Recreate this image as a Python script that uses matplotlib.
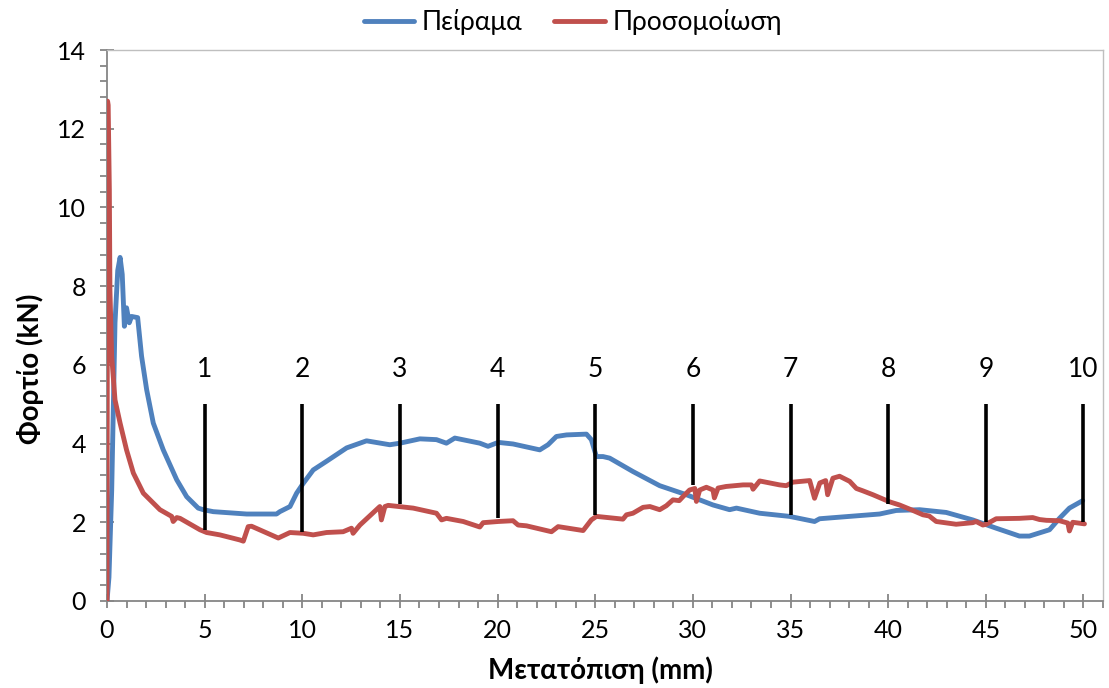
import matplotlib
matplotlib.use("Agg")
import matplotlib.pyplot as plt
from matplotlib.ticker import MultipleLocator

plt.rcParams['font.family'] = ['Lato', 'DejaVu Sans']

# Experimental load-displacement curve
exp_x = [0.0, 0.1, 0.24, 0.41, 0.55, 0.67, 0.78, 0.89, 1.0, 1.14, 1.26, 1.57, 1.77, 2.03,
         2.37, 2.88, 3.57, 4.08, 4.67, 4.93, 5.44, 6.3, 7.15, 8.68, 8.85, 9.37, 9.71,
         10.05, 10.56, 11.24, 12.27, 13.29, 14.48, 15.0, 16.02, 16.87, 17.38, 17.81,
         19.09, 19.51, 20.03, 20.79, 22.16, 22.58, 23.01, 23.53, 24.55, 24.8, 25.06,
         25.4, 25.74, 26.93, 28.3, 29.67, 31.03, 31.88, 32.23, 33.42, 34.95, 36.23,
         36.49, 37.51, 39.56, 40.41, 41.61, 42.97, 44.33, 45.53, 46.72, 47.23, 48.26,
         48.77, 49.28, 49.96]
exp_y = [0.0, 0.6, 2.8, 7.07, 8.4, 8.73, 8.3, 6.98, 7.45, 7.07, 7.23, 7.2, 6.22, 5.37,
         4.52, 3.84, 3.08, 2.65, 2.36, 2.32, 2.27, 2.24, 2.21, 2.21, 2.27, 2.4, 2.74,
         2.99, 3.33, 3.55, 3.89, 4.07, 3.97, 4.01, 4.12, 4.1, 4.01, 4.14,
         4.01, 3.93, 4.03, 3.99, 3.84, 3.97, 4.18, 4.22, 4.24, 4.1, 3.67,
         3.67, 3.63, 3.29, 2.93, 2.70, 2.44, 2.32, 2.36, 2.23, 2.15, 2.02,
         2.09, 2.13, 2.21, 2.3, 2.32, 2.25, 2.06, 1.85, 1.65, 1.65, 1.81,
         2.1, 2.36, 2.55]

# Simulated load-displacement curve
sim_x = [0.0, 0.03, 0.06, 0.12, 0.15, 0.24, 0.41, 0.67, 1.0, 1.35, 1.86, 2.71, 3.31,
         3.39, 3.57, 3.74, 4.76, 5.1, 5.78, 6.81, 6.98, 7.23, 7.4, 8.77, 9.37, 10.05,
         10.56, 11.24, 12.09, 12.52, 12.6, 12.95, 13.97, 14.05, 14.23, 14.4, 15.68,
         16.87, 17.13, 17.38, 18.24, 19.09, 19.26, 20.03, 20.79, 21.05, 21.48, 22.76,
         23.1, 24.38, 24.8, 25.06, 26.42, 26.6, 26.93, 27.45, 27.8, 28.3, 28.64,
         28.98, 29.3, 29.49, 29.83, 30.1, 30.18, 30.35, 30.69, 31.03, 31.1, 31.29,
         31.7, 32.57, 33.0, 33.08, 33.42, 34.44, 34.78, 35.12, 35.98, 36.23, 36.5,
         36.8, 36.9, 37.17, 37.51, 38.03, 38.37, 38.7, 39.22, 40.07, 40.58, 41.27,
         41.78, 42.1, 42.46, 43.48, 44.33, 44.5, 44.85, 45.02, 45.53, 46.72, 47.4,
         47.75, 48.1, 48.77, 49.2, 49.28, 49.45, 50.05]
sim_y = [0.0, 12.7, 12.6, 10.46, 7.9, 6.22, 5.11, 4.52, 3.84, 3.25, 2.74, 2.32, 2.15,
         2.02, 2.12, 2.1, 1.81, 1.74, 1.68, 1.55, 1.52, 1.89, 1.9, 1.6, 1.74, 1.72,
         1.68, 1.74, 1.76, 1.85, 1.72, 1.93, 2.4, 2.06, 2.4, 2.43, 2.36,
         2.23, 2.06, 2.1, 2.02, 1.88, 1.99, 2.02, 2.04, 1.93, 1.91, 1.76,
         1.89, 1.79, 2.06, 2.15, 2.08, 2.19, 2.23, 2.38, 2.4, 2.32, 2.42,
         2.57, 2.55, 2.65, 2.82, 2.86, 2.53, 2.82, 2.89, 2.82, 2.62, 2.87,
         2.91, 2.95, 2.95, 2.84, 3.05, 2.95, 2.93, 3.02, 3.06, 2.61, 3.0,
         3.06, 2.7, 3.12, 3.17, 3.04, 2.86, 2.8, 2.7, 2.52, 2.44, 2.3,
         2.19, 2.16, 2.02, 1.95, 1.99, 2.02, 1.93, 1.95, 2.09, 2.1, 2.12,
         2.07, 2.05, 2.04, 1.98, 1.78, 2.0, 1.96]

# Stage markers: vertical bars from load 5 down to the curve
stage_labels = ['1', '2', '3', '4', '5', '6', '7', '8', '9', '10']
stage_x = [5, 10, 15, 20, 25, 30, 35, 40, 45, 50]
stage_top = 5.0
stage_bottom = [1.8, 1.76, 2.47, 2.11, 2.19, 2.95, 2.19, 2.47, 2.0, 2.0]

BLUE = '#4F81BD'
RED = '#C0504D'
AXIS_GREY = '#868686'

fig = plt.figure(figsize=(11.09, 6.88), dpi=100)
ax = fig.add_axes([107 / 1109, 1 - 601 / 688, (1103 - 107) / 1109, (601 - 50) / 688])

ax.plot(exp_x, exp_y, color=BLUE, lw=3.5, solid_joinstyle='round',
        solid_capstyle='round', label='Πείραμα', zorder=3)
ax.plot(sim_x, sim_y, color=RED, lw=3.5, solid_joinstyle='round',
        solid_capstyle='round', label='Προσομοίωση', zorder=4)

ax.vlines(stage_x, stage_bottom, stage_top, colors='black', lw=2.6, zorder=5)
for sx, lab in zip(stage_x, stage_labels):
    ax.text(sx, 5.88, lab, ha='center', va='center', fontsize=19, color='black')

ax.set_xlim(0, 51)
ax.set_ylim(0, 14)
ax.xaxis.set_major_locator(MultipleLocator(5))
ax.xaxis.set_minor_locator(MultipleLocator(1))
ax.yaxis.set_major_locator(MultipleLocator(2))
ax.yaxis.set_minor_locator(MultipleLocator(0.4))

for side in ['top', 'right']:
    ax.spines[side].set_color('#BFBFBF')
    ax.spines[side].set_linewidth(1.0)
for side in ['left', 'bottom']:
    ax.spines[side].set_color(AXIS_GREY)
    ax.spines[side].set_linewidth(1.3)

ax.tick_params(which='major', direction='inout', length=10, width=1.3,
               color=AXIS_GREY, labelsize=18, labelcolor='black', pad=8)
ax.tick_params(which='minor', direction='out', length=5, width=1.3, color=AXIS_GREY)
ax.tick_params(axis='y', which='major', pad=10)

fig.text(30 / 1109, 1 - 369 / 688, 'Φορτίο (kN)', rotation=90, ha='center',
         va='center', fontsize=20, fontweight='bold')
fig.text(600 / 1109, 1 - 670 / 688, 'Μετατόπιση (mm)', ha='center', va='center',
         fontsize=20, fontweight='bold')

fig.legend(loc='center', bbox_to_anchor=(573 / 1109, 1 - 22 / 688), ncol=2,
           frameon=False, fontsize=19, handlelength=1.9, columnspacing=1.2,
           handletextpad=0.3)

fig.savefig('out.png', dpi=100)
